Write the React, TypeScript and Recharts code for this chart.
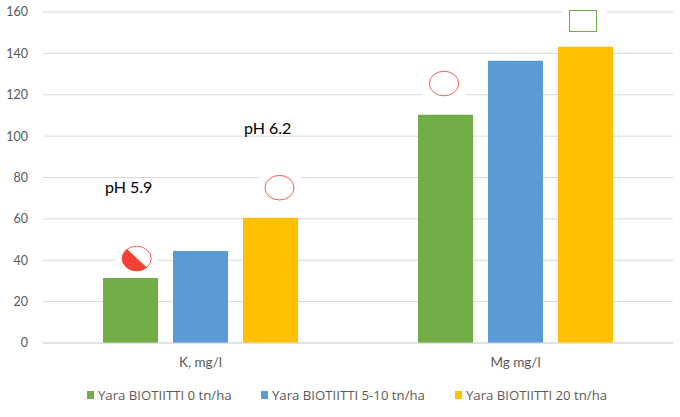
import React from 'react';
import { BarChart, Bar, XAxis, YAxis, CartesianGrid, Legend } from 'recharts';

const categories = ['K, mg/l', 'Mg mg/l'];
const seriesNames = ['Yara BIOTIITTI 0 tn/ha', 'Yara BIOTIITTI 5-10 tn/ha', 'Yara BIOTIITTI 20 tn/ha'];
const seriesColors = ['#70ad47', '#5b9bd5', '#ffc000'];
const zeroValues = [31.4, 110.3];
const midValues = [44.5, 136.4];
const highValues = [60.5, 143.2];
const yTicks = [0, 20, 40, 60, 80, 100, 120, 140, 160];
const rows = categories.map((name, i) => ({ name, a: zeroValues[i], b: midValues[i], c: highValues[i] }));
const FONT = 'Lato, "Open Sans", sans-serif';
const LEGEND_FONT = '"Open Sans", Lato, sans-serif';

function LegendBox() {
  const lefts = [87, 261, 455];
  return (
    <div style={{ position: 'relative', height: 20, width: 680, fontFamily: LEGEND_FONT, fontSize: 13.2, color: '#595959' }}>
      {seriesNames.map((n, i) => (
        <div key={n} style={{ position: 'absolute', left: lefts[i], top: 0, whiteSpace: 'nowrap', display: 'flex', alignItems: 'center', height: 20 }}>
          <span style={{ width: 7, height: 8, background: seriesColors[i], marginRight: 4, display: 'inline-block' }} />
          <span>{n}</span>
        </div>
      ))}
    </div>
  );
}

export default function App() {
  return (
    <div style={{ position: 'absolute', left: 0, top: 0, width: 680, height: 417, background: '#fff' }}>
      <BarChart width={680} height={417} data={rows} margin={{ top: 12, right: 7, bottom: 0, left: 0 }} barSize={55} barGap={15}>
        <CartesianGrid vertical={false} stroke="#d9d9d9" strokeWidth={1} />
        <XAxis dataKey="name" height={54} axisLine={{ stroke: '#d9d9d9' }} tickLine={false} tickMargin={8}
          tick={{ fill: '#595959', fontSize: 13.5, fontFamily: FONT }} />
        <YAxis width={43} domain={[0, 160]} ticks={yTicks} axisLine={false} tickLine={false} tickMargin={9}
          tick={{ fill: '#595959', fontSize: 12.5, fontFamily: FONT }} />
        <Bar dataKey="a" name={seriesNames[0]} fill={seriesColors[0]} isAnimationActive={false} />
        <Bar dataKey="b" name={seriesNames[1]} fill={seriesColors[1]} isAnimationActive={false} />
        <Bar dataKey="c" name={seriesNames[2]} fill={seriesColors[2]} isAnimationActive={false} />
        <Legend content={() => <LegendBox />} wrapperStyle={{ position: 'absolute', left: 0, top: 385, width: 680, height: 20 }} />
      </BarChart>
      <svg width={680} height={417} style={{ position: 'absolute', left: 0, top: 0, pointerEvents: 'none' }}>
        <rect x={115} y={248} width={42} height={22} fill="#fff" />
        <rect x={258} y={170} width={43} height={24} fill="#fff" />
        <rect x={422} y={72} width={44} height={26} fill="#fff" />
        <rect x={562} y={4} width={45} height={30} fill="#fff" />
        <ellipse cx={136.7} cy={258.5} rx={14.5} ry={12.3} fill="#fff" stroke="#f0605a" strokeWidth={1} />
        <path d="M127 249.2 L146.5 267.6 A14.5 12.3 0 0 1 127 249.2 Z" fill="#f44336" stroke="#f44336" strokeWidth={0.5} />
        <ellipse cx={279.5} cy={187.7} rx={14.5} ry={12.3} fill="#fff" stroke="#f0605a" strokeWidth={1} />
        <ellipse cx={444} cy={83.5} rx={14.7} ry={12.3} fill="#fff" stroke="#f0605a" strokeWidth={1} />
        <rect x={569.5} y={10.5} width={27} height={21} fill="#fff" stroke="#70ad47" strokeWidth={1} />
        <text x={105} y={193} fontFamily={FONT} fontSize={16} fill="#000">pH 5.9</text>
        <text x={244} y={134} fontFamily={FONT} fontSize={16} fill="#000">pH 6.2</text>
      </svg>
    </div>
  );
}
